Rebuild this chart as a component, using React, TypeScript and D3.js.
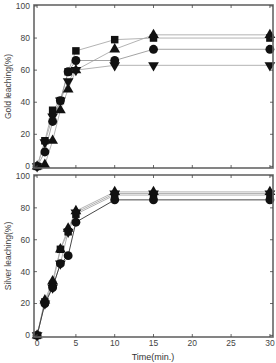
import React, { useRef, useEffect } from 'react';
import * as d3 from 'd3';

const times = [0, 1, 2, 3, 4, 5, 10, 15, 30];
const xTicks = [0, 5, 10, 15, 20, 25, 30];
const yTicks = [0, 20, 40, 60, 80, 100];

// gold leaching (%)
const goldSquare = [0, 16, 35, 41, 59, 72, 79, 80, 80];
const goldUp = [0, 1, 16, 35, 48, 60, 73, 82, 82];
const goldDown = [0, 15, 31, 41, 53, 60, 63, 63, 63];
const goldCircle = [0, 9, 28, 41, 59, 66, 66, 73, 73];

// silver leaching (%)
const silverCircle = [0, 20, 30, 45, 50, 71, 85, 85, 85];
const silverSquare = [0, 21, 32, 54, 65, 76, 88, 88, 88];
const silverUp = [0, 22, 34, 54, 67, 78, 90, 90, 90];
const silverDown = [0, 20, 30, 45, 65, 77, 89, 89, 89];

const W = 276;
const H = 363;
const left = 34;
const right = 273;

const drawPanel = (svg, top, bottom, series, yLabel, showX) => {
  const x = d3.scaleLinear().domain([-0.4, 30.4]).range([left, right]);
  const y = d3.scaleLinear().domain([-1, 100.6]).range([bottom, top]);
  const g = svg.append('g');

  const line = d3.line().x((d, i) => x(times[i])).y(d => y(d));

  series.forEach(s => {
    g.append('path')
      .attr('d', line(s.values))
      .attr('fill', 'none')
      .attr('stroke', s.line)
      .attr('stroke-width', 0.9);
  });

  const sym = {
    square: d3.symbolSquare,
    circle: d3.symbolCircle,
    up: d3.symbolTriangle,
    down: d3.symbolTriangle
  };
  series.forEach(s => {
    const gen = d3.symbol().type(sym[s.shape]).size(s.shape === 'circle' ? 62 : s.shape === 'square' ? 56 : 50);
    g.selectAll(null)
      .data(s.values)
      .enter()
      .append('path')
      .attr('d', gen)
      .attr('fill', '#111')
      .attr('transform', (d, i) =>
        `translate(${x(times[i])},${y(d)})` + (s.shape === 'down' ? ' rotate(180)' : ''));
  });

  // frame
  g.append('rect')
    .attr('x', left).attr('y', top)
    .attr('width', right - left).attr('height', bottom - top)
    .attr('fill', 'none').attr('stroke', '#666').attr('stroke-width', 1.6);

  // inward ticks
  xTicks.forEach(t => {
    g.append('line').attr('x1', x(t)).attr('x2', x(t)).attr('y1', bottom).attr('y2', bottom - 3)
      .attr('stroke', '#444').attr('stroke-width', 0.8);
    g.append('line').attr('x1', x(t)).attr('x2', x(t)).attr('y1', top).attr('y2', top + 3)
      .attr('stroke', '#444').attr('stroke-width', 0.8);
  });
  yTicks.forEach(t => {
    g.append('line').attr('x1', left).attr('x2', left + 3).attr('y1', y(t)).attr('y2', y(t))
      .attr('stroke', '#444').attr('stroke-width', 0.8);
    g.append('line').attr('x1', right).attr('x2', right - 3).attr('y1', y(t)).attr('y2', y(t))
      .attr('stroke', '#444').attr('stroke-width', 0.8);
    g.append('text')
      .attr('x', left - 4).attr('y', y(t)).attr('dy', '0.35em')
      .attr('text-anchor', 'end')
      .attr('font-size', 8.5).attr('fill', '#444')
      .text(t);
  });

  if (showX) {
    xTicks.forEach(t => {
      g.append('text')
        .attr('x', x(t)).attr('y', bottom + 9)
        .attr('text-anchor', 'middle')
        .attr('font-size', 8.5).attr('fill', '#444')
        .text(t);
    });
  }

  g.append('text')
    .attr('transform', `translate(11,${(top + bottom) / 2}) rotate(-90)`)
    .attr('text-anchor', 'middle')
    .attr('font-size', 8.5).attr('fill', '#444')
    .text(yLabel);
};

const App = () => {
  const svgRef = useRef(null);

  useEffect(() => {
    const svg = d3.select(svgRef.current);
    svg.selectAll('*').remove();
    svg.attr('font-family', 'Liberation Sans, Arial, sans-serif');

    drawPanel(svg, 5, 168, [
      { values: goldSquare, shape: 'square', line: '#aaa' },
      { values: goldUp, shape: 'up', line: '#aaa' },
      { values: goldDown, shape: 'down', line: '#aaa' },
      { values: goldCircle, shape: 'circle', line: '#999' }
    ], 'Gold leaching(%)', false);

    drawPanel(svg, 175, 337, [
      { values: silverSquare, shape: 'square', line: '#aaa' },
      { values: silverUp, shape: 'up', line: '#aaa' },
      { values: silverDown, shape: 'down', line: '#aaa' },
      { values: silverCircle, shape: 'circle', line: '#333' }
    ], 'Silver leaching(%)', true);

    svg.append('text')
      .attr('x', 153).attr('y', 360)
      .attr('text-anchor', 'middle')
      .attr('font-size', 9).attr('fill', '#333')
      .text('Time(min.)');
  }, []);

  return (
    <svg ref={svgRef} width={W} height={H}
      style={{ position: 'absolute', left: 0, top: 0, background: '#fff' }} />
  );
};

export default App;
